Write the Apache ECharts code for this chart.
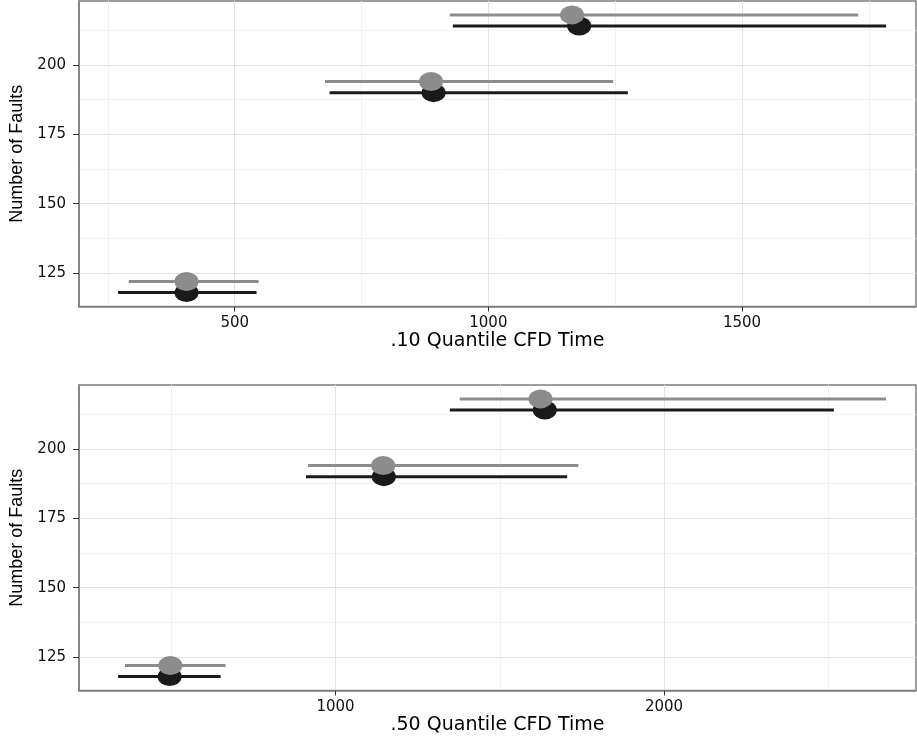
<!DOCTYPE html>
<html>
<head>
<meta charset="utf-8">
<title>Quantile CFD Time</title>
<script src="https://cdn.jsdelivr.net/npm/echarts@6.0.0/dist/echarts.min.js"></script>
<style>
html, body { margin: 0; padding: 0; background: #fff; }
#chart { width: 917px; height: 740px; }
</style>
</head>
<body>
<div id="chart"></div>
<script>
// number of faults, the two groups sit a few faults apart
const blackFaults = [118, 190, 214]
const greyFaults = [122, 194, 218]

// .10 quantile CFD time: point estimate and interval
const q10BlackMid = [405, 892, 1179]
const q10BlackLow = [270, 687, 930]
const q10BlackHigh = [543, 1275, 1784]
const q10GreyMid = [405, 887, 1165]
const q10GreyLow = [291, 678, 924]
const q10GreyHigh = [547, 1246, 1729]

// .50 quantile CFD time
const q50BlackMid = [495, 1147, 1637]
const q50BlackLow = [338, 910, 1348]
const q50BlackHigh = [650, 1705, 2517]
const q50GreyMid = [497, 1145, 1624]
const q50GreyLow = [359, 916, 1378]
const q50GreyHigh = [665, 1739, 2676]

// tick labels and minor grid values
const faultTicks = [125, 150, 175, 200]
const faultMinor = [137.5, 162.5, 187.5, 212.5]
const q10Ticks = [500, 1000, 1500]
const q10Minor = [250, 750, 1250, 1750]
const q50Ticks = [1000, 2000]
const q50Minor = [500, 1500, 2500]

const BLACK = '#1a1a1a'
const GREY = '#8c8c8c'
const AXIS_GREY = '#7f7f7f'

const chart = echarts.init(document.getElementById('chart'))

// axis that only draws the faint minor grid
function minorAxis (gridIndex, position, min, max, values) {
  return {
    type: 'value',
    gridIndex: gridIndex,
    position: position,
    min: min,
    max: max,
    axisLine: { show: false },
    axisLabel: { show: false },
    axisTick: { show: false, customValues: values },
    splitLine: { show: true, lineStyle: { color: '#f2f2f2', width: 1 } }
  }
}

// axis with ticks, labels, title and major grid
function majorAxis (gridIndex, position, min, max, ticks, name, nameGap) {
  const vertical = position === 'left'
  return {
    type: 'value',
    gridIndex: gridIndex,
    position: position,
    min: min,
    max: max,
    name: name,
    nameLocation: 'middle',
    nameGap: nameGap,
    nameTextStyle: vertical
      ? { fontFamily: 'Liberation Sans', fontSize: 18, color: '#000' }
      : { fontFamily: 'DejaVu Sans', fontSize: 19, color: '#000' },
    axisLine: { show: true, lineStyle: { color: AXIS_GREY, width: 1.5 } },
    axisTick: { show: true, customValues: ticks, length: vertical ? 6 : 5, lineStyle: { color: '#333', width: 1 } },
    axisLabel: {
      customValues: ticks,
      margin: vertical ? 13 : 9,
      fontFamily: 'DejaVu Sans',
      fontSize: 15,
      color: '#111',
      formatter: (v) => String(v)
    },
    splitLine: { show: true, lineStyle: { color: '#e3e3e3', width: 1 } }
  }
}

function rows (low, high, faults) {
  return faults.map((f, i) => [low[i], f, high[i]])
}

function points (mid, faults) {
  return faults.map((f, i) => [mid[i], f])
}

function barSeries (axisIndex, data, color) {
  return {
    type: 'custom',
    xAxisIndex: axisIndex,
    yAxisIndex: axisIndex,
    encode: { x: [0, 2], y: 1 },
    data: data,
    silent: true,
    renderItem: (params, api) => {
      const a = api.coord([api.value(0), api.value(1)])
      const b = api.coord([api.value(2), api.value(1)])
      return {
        type: 'line',
        shape: { x1: a[0], y1: a[1], x2: b[0], y2: b[1] },
        style: { stroke: color, lineWidth: 3 }
      }
    }
  }
}

function dotSeries (axisIndex, data, color) {
  return {
    type: 'scatter',
    xAxisIndex: axisIndex,
    yAxisIndex: axisIndex,
    symbol: 'circle',
    symbolSize: [24, 19],
    itemStyle: { color: color, opacity: 1 },
    data: data
  }
}

const gridStyle = {
  show: true,
  borderColor: AXIS_GREY,
  borderWidth: 1.5,
  containLabel: false,
  outerBoundsMode: 'none'
}

const option = {
  animation: false,
  backgroundColor: '#fff',
  grid: [
    Object.assign({ left: 79, top: 1, width: 837, height: 305.5 }, gridStyle),
    Object.assign({ left: 79, top: 385, width: 837, height: 305.5 }, gridStyle)
  ],
  xAxis: [
    minorAxis(0, 'bottom', 193, 1843, q10Minor),
    majorAxis(0, 'bottom', 193, 1843, q10Ticks, '.10 Quantile CFD Time', 25),
    minorAxis(1, 'bottom', 219, 2767, q50Minor),
    majorAxis(1, 'bottom', 219, 2767, q50Ticks, '.50 Quantile CFD Time', 25)
  ],
  yAxis: [
    minorAxis(0, 'left', 113, 223, faultMinor),
    majorAxis(0, 'left', 113, 223, faultTicks, 'Number of Faults', 40),
    minorAxis(1, 'left', 113, 223, faultMinor),
    majorAxis(1, 'left', 113, 223, faultTicks, 'Number of Faults', 40)
  ],
  series: [
    barSeries(1, rows(q10BlackLow, q10BlackHigh, blackFaults), BLACK),
    dotSeries(1, points(q10BlackMid, blackFaults), BLACK),
    barSeries(1, rows(q10GreyLow, q10GreyHigh, greyFaults), GREY),
    dotSeries(1, points(q10GreyMid, greyFaults), GREY),
    barSeries(3, rows(q50BlackLow, q50BlackHigh, blackFaults), BLACK),
    dotSeries(3, points(q50BlackMid, blackFaults), BLACK),
    barSeries(3, rows(q50GreyLow, q50GreyHigh, greyFaults), GREY),
    dotSeries(3, points(q50GreyMid, greyFaults), GREY)
  ]
}

chart.setOption(option)
</script>
</body>
</html>
